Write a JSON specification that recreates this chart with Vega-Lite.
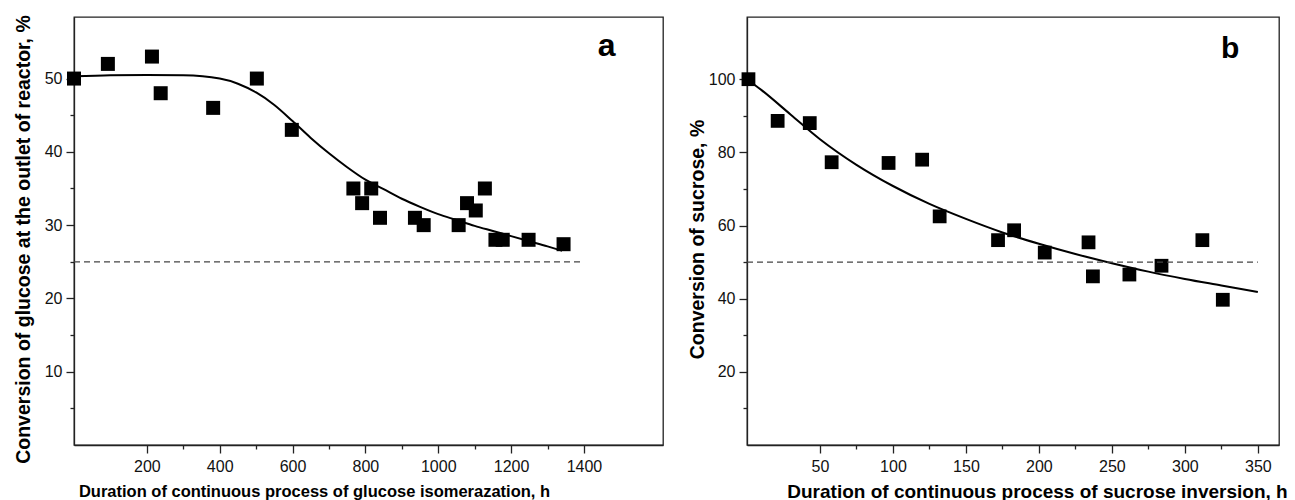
{
  "$schema": "https://vega.github.io/schema/vega-lite/v6.json",
  "padding": {"left": 12, "top": 14, "right": 0, "bottom": 0},
  "background": "white",
  "config": {
    "view": {"stroke": "#222", "strokeWidth": 1.3},
    "font": "Liberation Sans",
    "axis": {
      "grid": false,
      "domainColor": "#222",
      "domainWidth": 1.3,
      "tickColor": "#222",
      "tickWidth": 1.3,
      "labelColor": "#111",
      "labelFont": "Liberation Sans",
      "labelFontSize": 16,
      "titleFont": "Liberation Sans",
      "titleFontWeight": "bold",
      "titleColor": "#000"
    }
  },
  "datasets": {
    "glucose_points": [
      {"t": 0, "conv": 50},
      {"t": 93, "conv": 52},
      {"t": 214, "conv": 53},
      {"t": 238, "conv": 48},
      {"t": 382, "conv": 46},
      {"t": 502, "conv": 50},
      {"t": 598, "conv": 43},
      {"t": 767, "conv": 35},
      {"t": 791, "conv": 33},
      {"t": 816, "conv": 35},
      {"t": 840, "conv": 31},
      {"t": 936, "conv": 31},
      {"t": 960, "conv": 30},
      {"t": 1056, "conv": 30},
      {"t": 1079, "conv": 33},
      {"t": 1103, "conv": 32},
      {"t": 1128, "conv": 35},
      {"t": 1157, "conv": 28},
      {"t": 1177, "conv": 28},
      {"t": 1248, "conv": 28},
      {"t": 1344, "conv": 27.4}
    ],
    "glucose_fit": [
      {"t": 0, "conv": 50.3},
      {"t": 100, "conv": 50.45},
      {"t": 200, "conv": 50.5},
      {"t": 300, "conv": 50.45},
      {"t": 400, "conv": 50.0},
      {"t": 450, "conv": 49.3},
      {"t": 500, "conv": 48.1},
      {"t": 550, "conv": 46.4},
      {"t": 600, "conv": 44.2},
      {"t": 650, "conv": 41.9},
      {"t": 700, "conv": 39.8},
      {"t": 750, "conv": 37.9},
      {"t": 800, "conv": 36.2},
      {"t": 850, "conv": 34.9},
      {"t": 900, "conv": 33.6},
      {"t": 950, "conv": 32.5},
      {"t": 1000, "conv": 31.5},
      {"t": 1050, "conv": 30.7},
      {"t": 1100, "conv": 29.9},
      {"t": 1150, "conv": 29.2},
      {"t": 1200, "conv": 28.5},
      {"t": 1250, "conv": 27.8},
      {"t": 1300, "conv": 27.1},
      {"t": 1340, "conv": 26.5}
    ],
    "glucose_ref": [{"t0": 0, "t1": 1400, "conv": 25}],
    "glucose_label": [{"t": 1462, "conv": 53.1, "label": "a"}],
    "sucrose_points": [
      {"t": 1, "conv": 100},
      {"t": 21, "conv": 88.6},
      {"t": 43, "conv": 88},
      {"t": 58, "conv": 77.3},
      {"t": 97, "conv": 77.1},
      {"t": 120, "conv": 78},
      {"t": 132, "conv": 62.5},
      {"t": 172, "conv": 56},
      {"t": 183, "conv": 58.7},
      {"t": 204, "conv": 52.6},
      {"t": 234, "conv": 55.4},
      {"t": 237, "conv": 46.1},
      {"t": 262, "conv": 46.6},
      {"t": 284, "conv": 49},
      {"t": 312, "conv": 56},
      {"t": 326, "conv": 39.7}
    ],
    "sucrose_fit": [
      {"t": 0, "conv": 100},
      {"t": 10, "conv": 97},
      {"t": 30, "conv": 90.3},
      {"t": 50, "conv": 83.6},
      {"t": 75, "conv": 76.6},
      {"t": 100, "conv": 70.8},
      {"t": 125, "conv": 65.9},
      {"t": 150, "conv": 61.8},
      {"t": 175, "conv": 58.1},
      {"t": 200, "conv": 55.0},
      {"t": 225, "conv": 52.2},
      {"t": 250, "conv": 49.7},
      {"t": 275, "conv": 47.4},
      {"t": 300, "conv": 45.4},
      {"t": 325, "conv": 43.6},
      {"t": 350, "conv": 41.8}
    ],
    "sucrose_ref": [{"t0": 0, "t1": 350, "conv": 50}],
    "sucrose_label": [{"t": 331, "conv": 105.7, "label": "b"}]
  },
  "hconcat": [
    {
      "width": 589,
      "height": 428,
      "layer": [
        {
          "data": {"name": "glucose_fit"},
          "mark": {"type": "line", "color": "#000", "strokeWidth": 2, "interpolate": "monotone"},
          "encoding": {
            "x": {
              "field": "t", "type": "quantitative",
              "scale": {"domain": [0, 1617], "nice": false, "zero": false},
              "axis": {
                "orient": "bottom", "format": "d",
                "values": [200, 400, 600, 800, 1000, 1200, 1400],
                "tickSize": 8, "labelPadding": 5,
                "title": "Duration of continuous process of glucose isomerazation, h",
                "titleFontSize": 16.5, "titleX": 240, "titleY": 51, "titleBaseline": "alphabetic"
              }
            },
            "y": {
              "field": "conv", "type": "quantitative",
              "scale": {"domain": [0, 58.4], "nice": false, "zero": false},
              "axis": {
                "orient": "left", "format": "d",
                "values": [10, 20, 30, 40, 50],
                "tickSize": 8, "labelPadding": 4,
                "title": "Conversion of glucose at the outlet of reactor, %",
                "titleFontSize": 19.5, "titleX": -44.6, "titleY": 222, "titleBaseline": "alphabetic"
              }
            }
          }
        },
        {
          "data": {"name": "glucose_points"},
          "mark": {"type": "square", "size": 196, "color": "#000", "opacity": 1},
          "encoding": {
            "x": {
              "field": "t", "type": "quantitative",
              "axis": {"orient": "bottom", "values": [300, 500, 700, 900, 1100, 1300], "tickSize": 4, "labels": false, "domain": false, "title": null}
            },
            "y": {
              "field": "conv", "type": "quantitative",
              "axis": {"orient": "left", "values": [5, 15, 25, 35, 45], "tickSize": 4, "labels": false, "domain": false, "title": null}
            }
          }
        },
        {
          "data": {"name": "glucose_ref"},
          "mark": {"type": "rule", "color": "#444", "strokeWidth": 1.3, "strokeDash": [6, 4]},
          "encoding": {
            "x": {"field": "t0", "type": "quantitative", "axis": null},
            "x2": {"field": "t1"},
            "y": {"field": "conv", "type": "quantitative", "axis": null}
          }
        },
        {
          "data": {"name": "glucose_label"},
          "mark": {"type": "text", "fontSize": 32, "fontWeight": "bold", "align": "center", "baseline": "alphabetic", "color": "#000"},
          "encoding": {
            "x": {"field": "t", "type": "quantitative", "axis": null},
            "y": {"field": "conv", "type": "quantitative", "axis": null},
            "text": {"field": "label"}
          }
        }
      ],
      "resolve": {"axis": {"x": "independent", "y": "independent"}}
    },
    {
      "width": 532,
      "height": 428,
      "layer": [
        {
          "data": {"name": "sucrose_fit"},
          "mark": {"type": "line", "color": "#000", "strokeWidth": 2, "interpolate": "monotone"},
          "encoding": {
            "x": {
              "field": "t", "type": "quantitative",
              "scale": {"domain": [0, 364.5], "nice": false, "zero": false},
              "axis": {
                "orient": "bottom", "format": "d",
                "values": [50, 100, 150, 200, 250, 300, 350],
                "tickSize": 8, "labelPadding": 5,
                "title": "Duration of continuous process of sucrose inversion, h",
                "titleFontSize": 19, "titleX": 290, "titleY": 52, "titleBaseline": "alphabetic"
              }
            },
            "y": {
              "field": "conv", "type": "quantitative",
              "scale": {"domain": [0, 117], "nice": false, "zero": false},
              "axis": {
                "orient": "left", "format": "d",
                "values": [20, 40, 60, 80, 100],
                "tickSize": 8, "labelPadding": 4,
                "title": "Conversion of sucrose, %",
                "titleFontSize": 19.5, "titleX": -43.4, "titleY": 222, "titleBaseline": "alphabetic"
              }
            }
          }
        },
        {
          "data": {"name": "sucrose_points"},
          "mark": {"type": "square", "size": 190, "color": "#000", "opacity": 1},
          "encoding": {
            "x": {
              "field": "t", "type": "quantitative",
              "axis": {"orient": "bottom", "values": [75, 125, 175, 225, 275, 325], "tickSize": 4, "labels": false, "domain": false, "title": null}
            },
            "y": {
              "field": "conv", "type": "quantitative",
              "axis": {"orient": "left", "values": [10, 30, 50, 70, 90], "tickSize": 4, "labels": false, "domain": false, "title": null}
            }
          }
        },
        {
          "data": {"name": "sucrose_ref"},
          "mark": {"type": "rule", "color": "#444", "strokeWidth": 1.3, "strokeDash": [6, 4]},
          "encoding": {
            "x": {"field": "t0", "type": "quantitative", "axis": null},
            "x2": {"field": "t1"},
            "y": {"field": "conv", "type": "quantitative", "axis": null}
          }
        },
        {
          "data": {"name": "sucrose_label"},
          "mark": {"type": "text", "fontSize": 30, "fontWeight": "bold", "align": "center", "baseline": "alphabetic", "color": "#000"},
          "encoding": {
            "x": {"field": "t", "type": "quantitative", "axis": null},
            "y": {"field": "conv", "type": "quantitative", "axis": null},
            "text": {"field": "label"}
          }
        }
      ],
      "resolve": {"axis": {"x": "independent", "y": "independent"}}
    }
  ],
  "spacing": 84,
  "bounds": "flush"
}
